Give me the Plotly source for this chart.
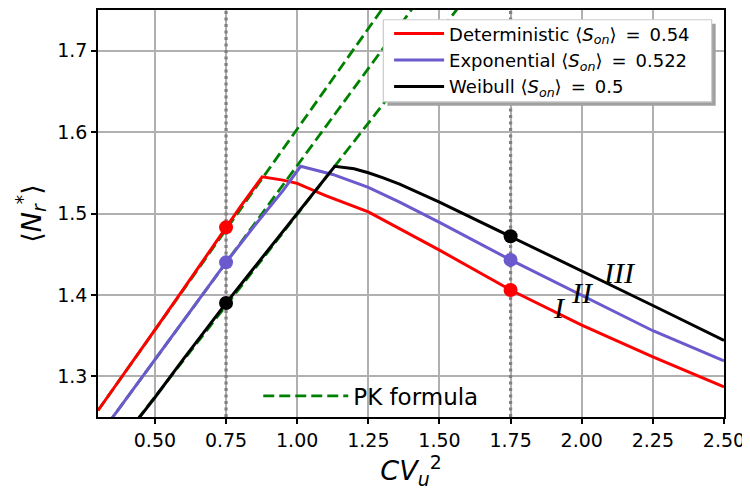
import plotly.graph_objects as go

# ---------------- data ----------------
det_x = [0.3, 0.4, 0.5, 0.6, 0.7, 0.75, 0.8, 0.877, 0.95, 1.0, 1.1, 1.25, 1.375, 1.5, 1.75, 2.0, 2.25, 2.5]
det_y = [1.258, 1.307, 1.357, 1.407, 1.458, 1.483, 1.508, 1.545, 1.541, 1.537, 1.522, 1.502, 1.479, 1.455, 1.406, 1.363, 1.324, 1.287]

exp_x = [0.3, 0.354, 0.5, 0.6, 0.7, 0.75, 0.85, 0.95, 1.012, 1.125, 1.25, 1.36, 1.5, 1.75, 2.0, 2.25, 2.5]
exp_y = [1.225, 1.251, 1.321, 1.368, 1.416, 1.440, 1.485, 1.528, 1.558, 1.548, 1.532, 1.514, 1.489, 1.443, 1.399, 1.356, 1.319]

wei_x = [0.44, 0.5, 0.6, 0.7, 0.75, 0.85, 0.95, 1.05, 1.132, 1.2, 1.25, 1.3, 1.36, 1.5, 1.75, 2.0, 2.25, 2.5]
wei_y = [1.247, 1.274, 1.321, 1.367, 1.390, 1.434, 1.478, 1.522, 1.558, 1.555, 1.550, 1.544, 1.536, 1.514, 1.472, 1.429, 1.387, 1.344]

pk_x = [0.3, 1.6]
pk_det = [1.258, 1.900]
pk_exp = [1.225, 1.845]
pk_wei = [1.185, 1.768]

mark_x = [0.75, 1.75]
mark_det = [1.483, 1.406]
mark_exp = [1.440, 1.443]
mark_wei = [1.390, 1.472]

vline_x = [0.75, 1.75]

x_range = [0.3, 2.5]
y_range = [1.25, 1.75]
x_ticks = [0.5, 0.75, 1.0, 1.25, 1.5, 1.75, 2.0, 2.25, 2.5]
y_ticks = [1.3, 1.4, 1.5, 1.6, 1.7]

regime_labels = ["I", "II", "III"]
regime_x = [1.921, 2.003, 2.132]
regime_y = [1.385, 1.4035, 1.428]

EQ = "\u2002=\u2002"
names = ["Deterministic ⟨<i>S</i><sub><i>on</i></sub>⟩" + EQ + "0.54",
         "Exponential ⟨<i>S</i><sub><i>on</i></sub>⟩" + EQ + "0.522",
         "Weibull ⟨<i>S</i><sub><i>on</i></sub>⟩" + EQ + "0.5"]
colors = ["#ff0000", "#6a5acd", "#000000"]

FONT = "DejaVu Sans"

fig = go.Figure()

# dotted vertical guide lines
for v in vline_x:
    fig.add_trace(go.Scatter(x=[v, v], y=y_range, mode="lines",
                             line=dict(color="#808080", width=3.2, dash="3px,3.5px"),
                             showlegend=False, hoverinfo="skip"))

# PK formula lines
for i, pk in enumerate([pk_det, pk_exp, pk_wei]):
    fig.add_trace(go.Scatter(x=pk_x, y=pk, mode="lines",
                             line=dict(color="#008000", width=2.8, dash="11px,5px"),
                             name="PK formula", legend="legend2",
                             showlegend=(i == 0)))

# curves
for xs, ys, nm, c in zip([det_x, exp_x, wei_x], [det_y, exp_y, wei_y], names, colors):
    fig.add_trace(go.Scatter(x=xs, y=ys, mode="lines", name=nm,
                             line=dict(color=c, width=3), legend="legend"))

# markers
for ys, c in zip([mark_det, mark_exp, mark_wei], colors):
    fig.add_trace(go.Scatter(x=mark_x, y=ys, mode="markers",
                             marker=dict(color=c, size=14, line=dict(width=0)),
                             showlegend=False))

# regime labels
for t, xx, yy in zip(regime_labels, regime_x, regime_y):
    fig.add_annotation(x=xx, y=yy, text="<i>" + t + "</i>", showarrow=False,
                       font=dict(family="Liberation Serif", size=30, color="black"))

axis_common = dict(showline=True, linecolor="black", linewidth=1.5, mirror=True,
                   ticks="outside", ticklen=5, tickwidth=1.5, tickcolor="black",
                   showgrid=True, gridcolor="#b0b0b0", gridwidth=1.5, zeroline=False,
                   automargin=False,
                   tickfont=dict(family=FONT, size=19, color="black"))

fig.update_xaxes(range=x_range, tickvals=x_ticks, tickformat=".2f",
                 title=dict(text="<i>CV</i><sub><i>u</i></sub><sup>2</sup>",
                            font=dict(family=FONT, size=27, color="black"), standoff=6),
                 **axis_common)
fig.update_yaxes(range=y_range, tickvals=y_ticks, tickformat=".1f",
                 title=dict(text="⟨<i>N</i><sub><i>r</i></sub><sup>*</sup>⟩",
                            font=dict(family=FONT, size=27, color="black"), standoff=8),
                 **axis_common)

# legend box (with shadow) drawn as shapes
bx0, bx1, by0, by1 = 0.4558, 0.9803, 0.7744, 0.9760
fig.add_shape(type="rect", xref="paper", yref="paper",
              x0=bx0 + 0.0064, x1=bx1 + 0.0064, y0=by0 - 0.0098, y1=by1 - 0.0098,
              fillcolor="#a0a0a0", line=dict(width=0), layer="above")
fig.add_shape(type="rect", xref="paper", yref="paper",
              x0=bx0, x1=bx1, y0=by0, y1=by1,
              fillcolor="white", line=dict(color="#cccccc", width=1.2), layer="above")

# page has an 8px body margin: figure shrunk so the plot area lands where the reference has it
fig.update_layout(
    width=742, height=486,
    margin=dict(l=90, r=26, t=2, b=77),
    plot_bgcolor="white", paper_bgcolor="white",
    font=dict(family=FONT, color="black"),
    legend=dict(x=0.465, y=0.9867, xanchor="left", yanchor="top",
                bgcolor="rgba(0,0,0,0)", borderwidth=0,
                font=dict(family=FONT, size=18, color="black"),
                itemwidth=50, tracegroupgap=0),
    legend2=dict(x=0.256, y=0.052, xanchor="left", yanchor="middle",
                 bgcolor="rgba(0,0,0,0)", borderwidth=0,
                 font=dict(family=FONT, size=23, color="black"),
                 itemwidth=85),
)

fig.write_html("out.html")
